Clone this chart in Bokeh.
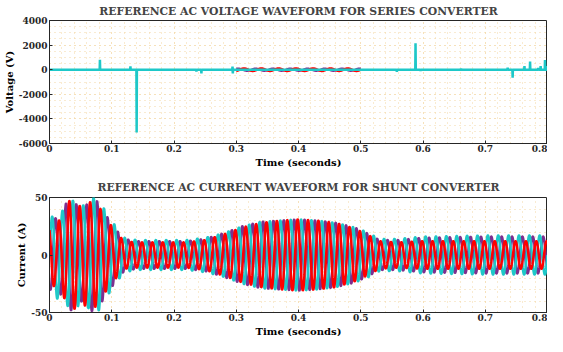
import numpy as np
from bokeh.plotting import figure
from bokeh.layouts import column
from bokeh.models import FixedTicker, Range1d, Title
from bokeh.embed import file_html
from bokeh.resources import INLINE

# ---------------- data ----------------
# Top panel: reference AC voltage (series converter)
v_title = "REFERENCE AC VOLTAGE WAVEFORM FOR SERIES CONVERTER"
v_ylabel = "Voltage (V)"
v_spike_t = [0.081, 0.130, 0.140, 0.236, 0.244, 0.294, 0.2945, 0.558, 0.588, 0.596,
             0.661, 0.736, 0.744, 0.763, 0.772, 0.785, 0.789, 0.796, 0.799]
v_spike_v = [800, 280, -5100, -150, -300, 250, -300, -180, 2150, -100,
             100, 170, -650, 300, 670, 150, 300, 780, 300]
v_ripple_start = 0.30
v_ripple_end = 0.50
v_ripple_amp = 100
v_ripple_hz = 36
v_yticks = [-6000, -4000, -2000, 0, 2000, 4000]
v_ytick_labels = ["-6000", "-4000", "-2000", "0", "2000", "4000"]

# Bottom panel: reference AC current (shunt converter), envelope per phase
i_title = "REFERENCE AC CURRENT WAVEFORM FOR SHUNT CONVERTER"
i_ylabel = "Current (A)"
i_env_t = [0.00, 0.01, 0.02, 0.03, 0.04, 0.05, 0.06, 0.07, 0.08, 0.09, 0.10, 0.11,
           0.12, 0.14, 0.18, 0.22, 0.25, 0.28, 0.31, 0.34, 0.37, 0.40, 0.43, 0.46,
           0.49, 0.51, 0.53, 0.56, 0.60, 0.70, 0.80]
cyan_amp = [30, 38, 38, 45, 48, 42, 45, 50, 48, 38, 30, 22,
            15, 13, 13, 13, 15, 19, 25, 29, 30, 31, 30, 28,
            24, 20, 14, 14, 16, 17, 17]
purple_amp = [30, 32, 35, 50, 46, 40, 44, 50, 45, 35, 28, 20,
              14, 12, 12, 12, 14, 19, 25, 29, 30, 31, 30, 28,
              24, 19, 13, 13, 15, 16, 16]
red_amp = [25, 28, 32, 47, 47, 42, 45, 47, 42, 32, 25, 18,
           12, 11, 11, 11, 13, 18, 24, 28, 30, 31, 30, 28,
           23, 18, 12, 11, 12, 12, 12]
i_freq_hz = 60
i_yticks = [-50, 0, 50]
i_ytick_labels = ["-50", "0", "50"]

x_ticks = [0, 0.1, 0.2, 0.3, 0.4, 0.5, 0.6, 0.7, 0.8]
x_tick_labels = ["0", "0.1", "0.2", "0.3", "0.4", "0.5", "0.6", "0.7", "0.8"]
x_label = "Time (seconds)"

# ---------------- styling ----------------
CYAN = "#1ec8c8"
PURPLE = "#7e2f8e"
RED = "#ff0000"
FONT = "DejaVu Serif"
GRID = "#f2d6a2"
AX = "#262626"


def style(p, yticks, ylabels, yminor, title_standoff):
    p.xaxis.ticker = FixedTicker(ticks=x_ticks,
                                 minor_ticks=list(np.round(np.arange(0, 0.8001, 0.02), 4)))
    p.xaxis.major_label_overrides = dict(zip(x_ticks, x_tick_labels))
    p.yaxis.ticker = FixedTicker(ticks=yticks, minor_ticks=yminor)
    p.yaxis.major_label_overrides = dict(zip(yticks, ylabels))
    for ax in (p.xaxis[0], p.yaxis[0]):
        ax.major_label_text_font = FONT
        ax.major_label_text_font_style = "bold"
        ax.major_label_text_font_size = "9px"
        ax.major_label_text_color = AX
        ax.axis_label_text_font = FONT
        ax.axis_label_text_font_style = "bold"
        ax.axis_label_text_font_size = "10px"
        ax.axis_label_text_color = "#000000"
        ax.axis_line_color = AX
        ax.major_tick_in = 3
        ax.major_tick_out = 0
        ax.minor_tick_in = 0
        ax.minor_tick_out = 0
        ax.major_tick_line_color = AX
        ax.major_label_standoff = 2
        ax.axis_label_standoff = 1
    p.xaxis.major_label_standoff = 1
    for g in (p.xgrid[0], p.ygrid[0]):
        g.grid_line_color = GRID
        g.grid_line_dash = "1 4"
        g.grid_line_width = 1
        g.minor_grid_line_color = GRID
        g.minor_grid_line_dash = "1 4"
        g.minor_grid_line_width = 1
    p.outline_line_color = AX
    p.outline_line_width = 1
    p.title.text_font = FONT
    p.title.text_font_style = "bold"
    p.title.text_font_size = "10.8px"
    p.title.align = "center"
    p.title.standoff = title_standoff
    p.background_fill_color = "white"
    p.border_fill_color = "white"
    # x-axis label as a compact title below the axis
    p.add_layout(Title(text=x_label, align="center", text_font=FONT,
                       text_font_style="bold", text_font_size="10px",
                       text_color="#000000", standoff=0), "below")


# ---------------- top figure ----------------
p1 = figure(width=547, height=167, output_backend="svg", toolbar_location=None,
            x_range=Range1d(0, 0.8), y_range=Range1d(-6000, 4000),
            title=v_title, min_border_left=44, min_border_right=0,
            min_border_top=0, min_border_bottom=0)
p1.yaxis.axis_label = v_ylabel
style(p1, v_yticks, v_ytick_labels, list(range(-6000, 4001, 500)), 5)

# ripple (red / purple) between the given times
tr = np.linspace(v_ripple_start, v_ripple_end, 800)
p1.line(tr, v_ripple_amp * np.sin(2 * np.pi * v_ripple_hz * tr + 2.1), color=PURPLE, line_width=2)
p1.line(tr, v_ripple_amp * np.sin(2 * np.pi * v_ripple_hz * tr), color=RED, line_width=2.5)

# cyan base line with spikes
vx = [0.0]
vy = [0.0]
for t, v in sorted(zip(v_spike_t, v_spike_v)):
    vx += [t - 0.0004, t, t + 0.0004]
    vy += [0.0, v, 0.0]
vx.append(0.8)
vy.append(0.0)
p1.line(vx, vy, color=CYAN, line_width=2.5)

# ---------------- bottom figure ----------------
p2 = figure(width=547, height=161, output_backend="svg", toolbar_location=None,
            x_range=Range1d(0, 0.8), y_range=Range1d(-50, 50),
            title=i_title, min_border_left=46, min_border_right=0,
            min_border_top=0, min_border_bottom=0)
p2.yaxis.axis_label = i_ylabel
style(p2, i_yticks, i_ytick_labels, list(range(-50, 51, 10)), 7)

t = np.linspace(0, 0.8, 4800)
w = 2 * np.pi * i_freq_hz * t
env_c = np.interp(t, i_env_t, cyan_amp)
env_p = np.interp(t, i_env_t, purple_amp)
env_r = np.interp(t, i_env_t, red_amp)
p2.line(t, env_p * np.sin(w - 2 * np.pi / 3), color=PURPLE, line_width=2.5)
p2.line(t, env_c * np.sin(w), color=CYAN, line_width=2.5)
p2.line(t, env_r * np.sin(w + 2 * np.pi / 3), color=RED, line_width=2.5)

layout = column(p1, p2, spacing=8)
open("out.html", "w").write(file_html(layout, INLINE))
